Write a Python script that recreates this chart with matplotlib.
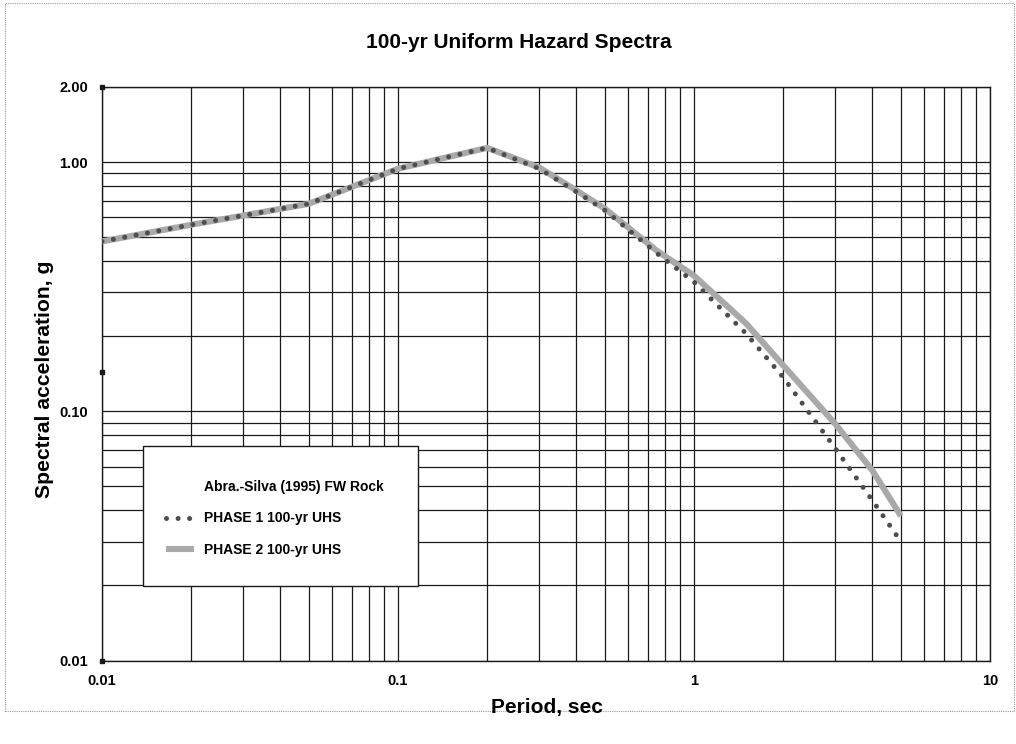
import matplotlib
matplotlib.use("Agg")
import matplotlib.pyplot as plt
from matplotlib.patches import Rectangle
from matplotlib.lines import Line2D

plt.rcParams['font.family'] = ['Liberation Sans', 'DejaVu Sans']
plt.rcParams['font.weight'] = 'bold'

# Data
period = [0.01, 0.02, 0.03, 0.05, 0.1, 0.2, 0.3, 0.4, 0.5, 0.75, 1.0, 1.5, 2.0, 3.0, 4.0, 5.0]
phase1 = [0.48, 0.56, 0.61, 0.68, 0.94, 1.14, 0.94, 0.76, 0.64, 0.43, 0.33, 0.205, 0.137, 0.071, 0.044, 0.030]
phase2 = [0.48, 0.56, 0.61, 0.68, 0.94, 1.14, 0.95, 0.77, 0.65, 0.44, 0.35, 0.225, 0.153, 0.089, 0.058, 0.038]

xticks = [0.01, 0.1, 1, 10]
xticklabels = ['0.01', '0.1', '1', '10']
yticks = [0.01, 0.1, 1.0, 2.0]
yticklabels = ['0.01', '0.10', '1.00', '2.00']

title = '100-yr Uniform Hazard Spectra'
xlabel = 'Period, sec'
ylabel = 'Spectral acceleration, g'
legend_header = 'Abra.-Silva (1995) FW Rock'
label1 = 'PHASE 1 100-yr UHS'
label2 = 'PHASE 2 100-yr UHS'

W, H = 1016, 744
fig = plt.figure(figsize=(W / 100, H / 100), dpi=100)
fig.patch.set_facecolor('white')

# outer dotted border
fig.add_artist(Rectangle((5 / W, 1 - 711 / H), 1009 / W, 708 / H, transform=fig.transFigure,
                         fill=False, edgecolor='#9a9a9a', lw=0.8, linestyle=(0, (1, 1))))

ax = fig.add_axes([102 / W, 1 - 660.5 / H, 888 / W, 573.5 / H])
ax.set_xscale('log')
ax.set_yscale('log')
ax.set_xlim(0.01, 10)
ax.set_ylim(0.01, 2.0)

ax.grid(True, which='both', color='#1a1a1a', lw=0.9)
ax.set_axisbelow(True)
for s in ax.spines.values():
    s.set_color('#1a1a1a')
    s.set_linewidth(1.0)

ax.set_xticks(xticks)
ax.set_xticklabels(xticklabels)
ax.set_yticks(yticks)
ax.set_yticklabels(yticklabels)
ax.minorticks_on()
ax.tick_params(which='minor', length=0, labelleft=False, labelbottom=False)
ax.tick_params(which='major', length=0, labelsize=10.5, pad=10)
ax.xaxis.set_minor_formatter(plt.NullFormatter())
ax.yaxis.set_minor_formatter(plt.NullFormatter())

ax.plot(period, phase2, color='#a9a9a9', lw=4.4, solid_capstyle='butt', zorder=3)
ax.plot(period, phase1, color='#4d4d4d', lw=3.6, linestyle=(0, (0.01, 2.3)),
        dash_capstyle='round', zorder=4)

# small square tick markers on the left axis
ax.plot([0.01, 0.01, 0.01], [0.01, 0.144, 2.0], 's', color='#1a1a1a', ms=3.5, clip_on=False, zorder=5)

fig.text(519 / W, 1 - 42 / H, title, fontsize=15, fontweight='bold', ha='center', va='center')
fig.text(547 / W, 1 - 708 / H, xlabel, fontsize=15, fontweight='bold', ha='center', va='center')
fig.text(45 / W, 1 - 379 / H, ylabel, fontsize=15.2, fontweight='bold', ha='center', va='center',
         rotation=90)

# legend box
ax.add_patch(Rectangle(((143 - 102) / 888, (660.5 - 586) / 573.5), (418 - 143) / 888, (586 - 446) / 573.5,
                       transform=ax.transAxes, facecolor='white', edgecolor='#1a1a1a', lw=1.0, zorder=6))
handles = [Line2D([], [], color='none'),
           Line2D([], [], color='#4d4d4d', lw=3.6, linestyle=(0, (0.01, 2.3)), dash_capstyle='round'),
           Line2D([], [], color='#a9a9a9', lw=4.4, solid_capstyle='butt')]
leg = ax.legend(handles, [legend_header, label1, label2], loc='upper left',
                bbox_to_anchor=((166 - 102) / 888, (660.5 - 480) / 573.5),
                frameon=False, fontsize=10, borderpad=0, borderaxespad=0,
                handlelength=2.0, handletextpad=0.75, labelspacing=1.25)
leg.set_zorder(7)
for t in leg.get_texts():
    t.set_fontweight('bold')

fig.savefig('out.png', dpi=100, facecolor='white')
